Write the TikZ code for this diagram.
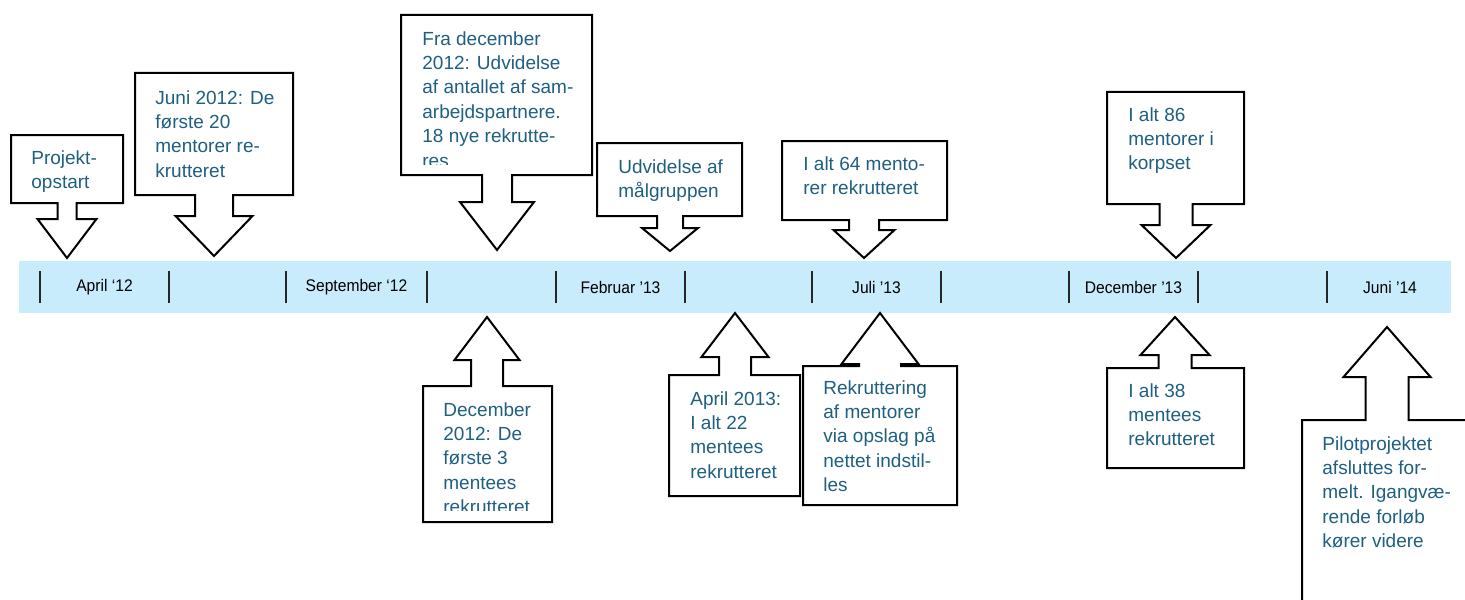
\documentclass[tikz,border=0pt]{standalone}
\usepackage{fontspec}
\setmainfont{Liberation Sans}
\newfontfamily\tlfont[FakeStretch=0.93]{Liberation Sans}
\usepackage{tikz}
\usetikzlibrary{positioning}
\definecolor{tltext}{HTML}{1F5F82}
\definecolor{tlband}{HTML}{C8ECFC}

% box + arrow outlines: left, top, right, bottom, tip x, shaft half, head half, head base, tip y
\newcommand{\downcall}[9]{%
  \draw[callout] (#1,#2) -- (#3,#2) -- (#3,#4) -- ({#5+#6},#4) -- ({#5+#6},#8) -- ({#5+#7},#8)
    -- (#5,#9) -- ({#5-#7},#8) -- ({#5-#6},#8) -- ({#5-#6},#4) -- (#1,#4) -- cycle;}
\newcommand{\upcall}[9]{%
  \draw[callout] (#1,#4) -- (#3,#4) -- (#3,#2) -- ({#5+#6},#2) -- ({#5+#6},#8) -- ({#5+#7},#8)
    -- (#5,#9) -- ({#5-#7},#8) -- ({#5-#6},#8) -- ({#5-#6},#2) -- (#1,#2) -- cycle;}

\begin{document}
\begin{tikzpicture}[
  x=0.5pt, y=-0.5pt,
  callout/.style={draw=black, line width=1pt, fill=white, line join=miter},
  txt/.style={text=tltext, align=left, anchor=north west, inner sep=0pt,
              font=\fontsize{9.5}{12.2}\selectfont},
  month/.style={inner sep=0pt, font=\tlfont\fontsize{8.4}{10}\selectfont},
  tickline/.style={line width=0.7pt, draw=black!85},
]
\clip (0,0) rectangle (1465,599);
% timeline
\fill[tlband] (19,261) rectangle (1451,313);
\foreach \x in {40,169,286,427,556,685,812,941,1069,1198,1327}
  \draw[tickline] (\x,271) -- (\x,303);
\node[month] (apr12) at (104.5,287) {April ‘12};
\node[month] (sep12) at (356.5,287) {September ‘12};
\node[month] (feb13) at (620.5,287) {Februar ’13};
\node[month] (jul13) at (876.5,287) {Juli ’13};
\node[month] (dec13) at (1133.5,287) {December ’13};
\node[month] (jun14) at (1390,287) {Juni ’14};

% callouts above the line
\downcall{11}{135}{123}{203}{67}{9.5}{29.5}{219}{258}
\node[txt] (projekt) at (31,150) {Projekt-\\opstart};
\downcall{135}{73}{293}{195}{214}{19}{38.5}{216}{256}
\node[txt] (juni12) at (155,90) {Juni 2012: De\\første 20\\mentorer re-\\krutteret};
\downcall{401}{15}{592}{175}{497}{15}{37}{202}{250}
\begin{scope}
  \clip (401,15) rectangle (592,164);
  \node[txt] (fradec) at (422,31) {Fra december\\2012: Udvidelse\\af antallet af sam-\\arbejdspartnere.\\18 nye rekrutte-\\res};
\end{scope}
\downcall{597}{143}{742}{216}{670}{13}{28}{228}{251}
\node[txt] (udvid) at (618,159) {Udvidelse af\\målgruppen};
\downcall{782}{141}{947}{220}{864}{15}{30.5}{230}{258}
\node[txt] (alt64) at (803,156) {I alt 64 mento-\\rer rekrutteret};
\downcall{1107}{92}{1244}{204}{1176}{16.5}{34.5}{225}{258}
\node[txt] (alt86) at (1128,107) {I alt 86\\mentorer i\\korpset};

% callouts below the line
\upcall{423}{386}{552}{522}{487}{16}{32.5}{360}{317}
\begin{scope}
  \clip (423,386) rectangle (552,510);
  \node[txt] (dec12) at (443,402) {December\\2012: De\\første 3\\mentees\\rekrutteret};
\end{scope}
\upcall{669}{375}{800}{496}{735}{16}{33.5}{357}{313}
\node[txt] (apr13) at (690,391) {April 2013:\\I alt 22\\mentees\\rekrutteret};
\upcall{803}{366}{957}{505}{880}{21}{38.5}{364}{313}
\node[txt] (rekrut) at (823,380) {Rekruttering\\af mentorer\\via opslag på\\nettet indstil-\\les};
\upcall{1107}{368}{1244}{468}{1175}{16.5}{34.5}{355}{317}
\node[txt] (alt38) at (1128,383) {I alt 38\\mentees\\rekrutteret};
\upcall{1302}{420}{1490}{640}{1387}{21.5}{43.5}{377}{327}
\node[txt] (pilot) at (1322,436) {Pilotprojektet\\afsluttes for-\\melt. Igangvæ-\\rende forløb\\kører videre};
\end{tikzpicture}
\end{document}
